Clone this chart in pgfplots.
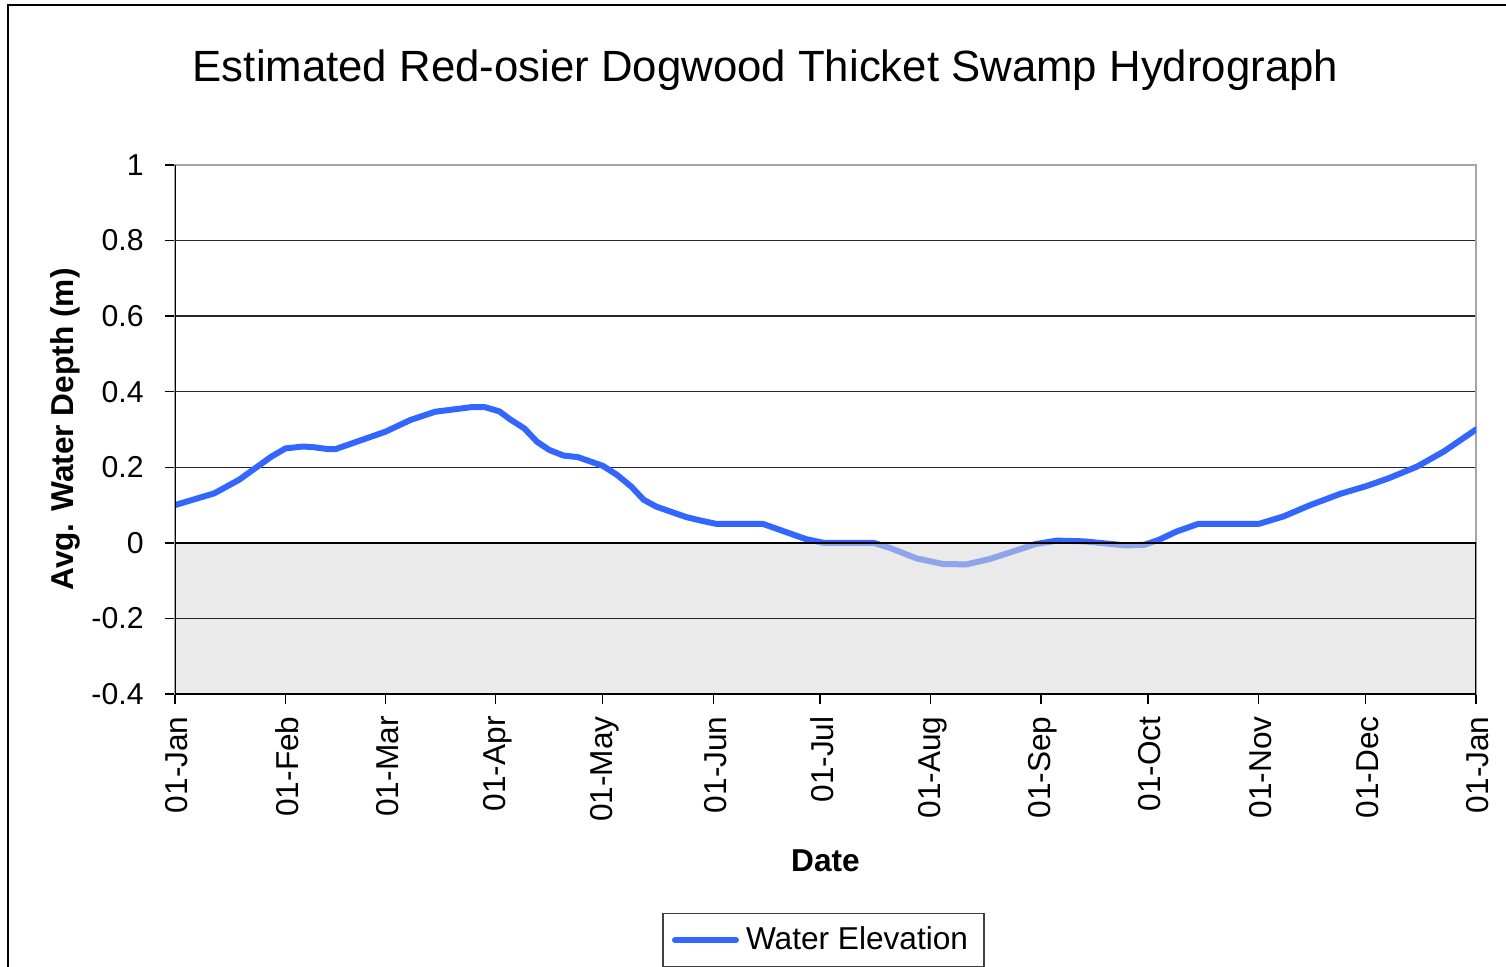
\documentclass[border=0pt]{standalone}
\usepackage{fontspec}
\setmainfont{Liberation Sans}
\usepackage{pgfplots}
\pgfplotsset{compat=1.18}
\definecolor{wblue}{RGB}{51,102,255}
\begin{document}
\begin{tikzpicture}[x=0.1mm,y=0.1mm]
\path[use as bounding box] (0,0) rectangle (1506,966);
\draw[line width=0.2mm] (8,-50) -- (8,961) -- (1600,961);
\node[anchor=base,font=\fontsize{12.45}{15}\selectfont,inner sep=0pt] at (765.5,884) {Estimated Red-osier Dogwood Thicket Swamp Hydrograph};
\begin{axis}[
  at={(17.5mm,27.2mm)}, anchor=south west,
  scale only axis, width=130.1mm, height=52.9mm,
  xmin=0, xmax=365, ymin=-0.4, ymax=1,
  xtick={0,31,59,90,120,151,181,212,243,273,304,334,365},
  xticklabels={01-Jan,01-Feb,01-Mar,01-Apr,01-May,01-Jun,01-Jul,01-Aug,01-Sep,01-Oct,01-Nov,01-Dec,01-Jan},
  ytick={-0.4,-0.2,0,0.2,0.4,0.6,0.8,1},
  ymajorgrids, grid style={black!85, line width=0.4pt},
  tick align=outside, major tick length=1mm,
  tick style={black, line width=0.4pt},
  xtick pos=left, ytick pos=left,
  axis line style={gray!70, line width=0.6pt},
  /pgf/number format/assume math mode=true,
  yticklabel style={font=\fontsize{8.6}{10}\selectfont, xshift=-0.9mm},
  xticklabel style={font=\fontsize{9}{10}\selectfont, rotate=90, anchor=east, yshift=-0.2mm},
  xlabel={Date}, ylabel={Avg. Water Depth (m)},
  xlabel style={at={(axis description cs:0.5,-0.3346)}, anchor=base, font=\bfseries\fontsize{9}{11}\selectfont, inner sep=0pt},
  ylabel style={at={(axis description cs:-0.0784,0.5)}, anchor=base, font=\bfseries\fontsize{9}{11}\selectfont, inner sep=0pt},
  legend style={at={(axis description cs:0.4985,-0.414)}, anchor=north, draw=black!75, line width=0.4pt,
    font=\fontsize{9}{11}\selectfont, inner xsep=0.9mm, inner ysep=0.55mm},
  legend cell align=left,
  legend image code/.code={\draw[#1] (0mm,0mm) -- (6.1mm,0mm);},
]
\addplot[wblue, line width=0.6mm, line join=round, line cap=round] coordinates {
(0,0.100) (11,0.131) (18,0.167) (27,0.228) (31,0.250) (36,0.255) (39,0.253)
(43,0.248) (45,0.248) (52,0.271) (59,0.294) (66,0.325) (73,0.347) (83,0.359)
(87,0.359) (91,0.348) (94,0.327) (98,0.303) (101.5,0.268) (105,0.246) (109,0.231)
(113,0.227) (120,0.204) (124,0.180) (128,0.149) (131.5,0.114) (135,0.096)
(143.5,0.068) (148,0.058) (152,0.050) (165,0.050) (171,0.030) (177,0.010)
(182,0.000) (196,0.000) (200.5,-0.013) (208,-0.041) (215.5,-0.056) (222,-0.057)
(228.5,-0.043) (236,-0.020) (241.5,-0.003) (247.5,0.006) (255,0.004) (267,-0.007)
(272,-0.005) (276,0.008) (281,0.030) (287,0.050) (304,0.050) (311,0.070)
(318.5,0.100) (327,0.130) (334.5,0.151) (340.5,0.171) (348.5,0.202) (356,0.242)
(365,0.300)
};
\addlegendentry{Water Elevation}
\addplot[forget plot, draw=black, line width=0.25mm, fill=black!15, fill opacity=0.55]
  coordinates {(0,0) (365,0) (365,-0.4) (0,-0.4)} -- cycle;
\draw[black!85, line width=0.4pt] (axis cs:0,-0.2) -- (axis cs:365,-0.2);
\draw[black, line width=0.5pt] (axis cs:0,-0.4) -- (axis cs:0,1);
\end{axis}
\end{tikzpicture}
\end{document}
